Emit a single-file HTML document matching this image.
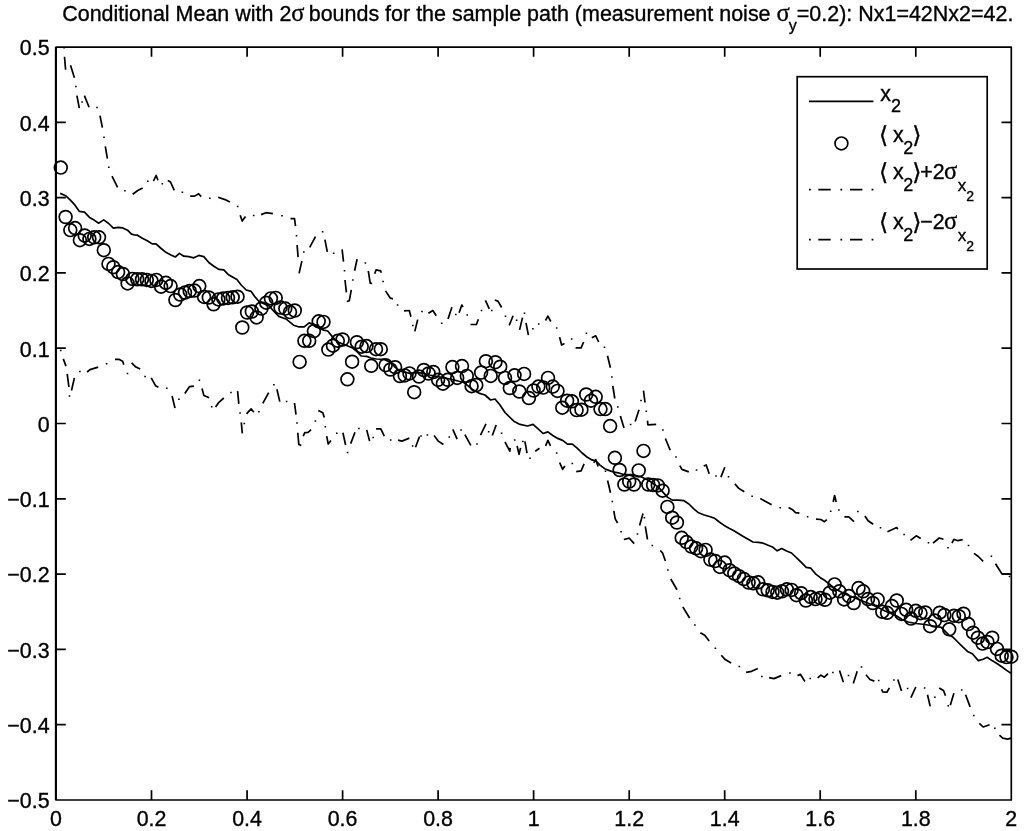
<!DOCTYPE html>
<html><head><meta charset="utf-8"><title>Conditional Mean</title>
<style>html,body{margin:0;padding:0;background:#fff}svg{display:block}text{font-family:"Liberation Sans",Arial,Helvetica,sans-serif;fill:#000;stroke:#000;stroke-width:0.35px}.b{font-family:"DejaVu Sans",sans-serif;font-size:23.5px}.s{font-family:"Liberation Serif","DejaVu Serif",serif;font-size:24.5px}</style></head><body>
<svg width="1024" height="831" viewBox="0 0 1024 831">
<rect x="0" y="0" width="1024" height="831" fill="#fff"/>
<text x="62.2" y="20.8" font-size="21.47" id="title">Conditional Mean with 2<tspan class="s">σ</tspan><tspan dx="-1.8"> bounds for</tspan> the sample path (measurement noise <tspan class="s">σ</tspan><tspan font-size="16" dy="10.3" dx="-1">y</tspan><tspan dy="-10.3">=0.2): Nx1=42Nx2=42.</tspan></text>
<g fill="none" stroke="#000" stroke-width="1.7" stroke-linejoin="round">
<polyline points="60.2,193.4 65.6,195.7 70.4,200.2 75.2,205.4 79.4,211.4 84.5,212.2 89.5,217.4 93.1,219.4 98.6,223.2 103.7,219.9 108.7,223.5 113.3,228.1 118.2,227.4 122.8,227.9 127.6,230.2 131.4,234.2 134.5,234.8 137.5,235.2 142.3,238.3 147.3,240.7 152.2,243.9 156.0,243.8 160.6,248.0 166.2,252.6 171.0,255.0 175.3,257.0 179.4,253.4 183.8,256.2 188.8,256.6 193.8,257.8 198.8,255.4 203.8,256.6 208.8,262.5 213.8,266.2 218.8,269.4 223.8,269.9 228.1,274.4 232.5,276.9 236.9,279.4 241.2,285.0 246.2,290.0 251.2,291.4 255.0,296.9 258.8,301.2 262.0,303.0 269.0,305.7 274.0,311.5 278.8,316.4 286.6,319.3 293.5,325.2 298.4,326.8 304.2,326.8 309.1,322.9 314.0,324.2 318.9,328.1 323.8,330.1 327.7,331.0 332.5,336.9 337.4,341.8 342.3,343.8 347.2,345.7 352.0,347.7 357.0,351.6 361.2,356.0 366.7,356.4 371.0,358.0 376.5,359.0 384.3,359.4 390.2,362.3 395.0,367.2 400.0,371.1 404.8,372.0 409.7,373.4 414.6,372.7 418.5,372.7 423.4,373.4 429.2,375.0 440.0,377.0 450.0,379.0 458.0,381.0 463.8,382.5 472.5,389.4 478.8,393.1 485.0,395.0 490.6,400.0 495.0,399.0 500.0,405.0 505.0,412.5 509.5,417.0 513.8,421.2 520.0,424.4 527.5,426.0 533.1,424.4 538.1,428.8 543.1,433.5 547.9,431.9 552.8,435.5 557.7,438.4 562.6,440.4 567.5,444.2 572.3,444.2 577.2,448.2 582.1,453.0 587.0,457.0 591.9,459.9 595.8,460.9 599.7,464.8 604.6,468.7 609.5,470.6 614.3,472.2 619.5,473.2 624.4,474.7 631.2,474.7 640.6,476.6 648.8,480.5 658.6,487.4 667.4,497.1 672.3,500.1 678.1,500.1 684.0,500.7 688.9,504.0 693.8,508.9 698.6,512.8 703.5,514.7 709.4,516.5 714.4,518.1 719.3,522.0 724.2,525.4 729.1,528.3 733.9,530.8 738.8,533.8 743.7,536.7 748.6,539.6 752.9,542.0 758.4,542.3 763.2,543.2 768.1,545.2 773.0,547.3 777.2,550.8 781.7,548.5 786.6,551.0 791.5,553.0 796.4,557.6 801.3,562.3 806.2,567.3 810.8,568.2 815.5,573.8 820.4,577.7 825.3,580.8 829.2,584.0 834.5,588.4 845.0,594.0 855.0,598.0 865.0,602.0 875.0,606.0 885.0,611.0 896.3,615.7 902.0,619.5 908.0,622.0 916.0,623.5 925.0,624.5 933.0,626.0 941.2,627.4 949.0,635.2 952.9,637.1 957.8,642.0 962.7,646.9 967.5,651.4 972.4,653.8 978.3,660.6 983.2,659.2 987.1,657.3 992.0,660.6 996.9,663.5 1001.7,666.8 1006.6,670.4 1011.0,673.3"/>
<path d="M64.5 56.8 L65.6 69.7M70.5 65.2 L74.4 77.7M76.9 95.6 L79.3 108.1M84.4 95.6 L89.1 107.3M100.0 115.6 L102.4 127.6M105.3 146.3 L107.4 158.7M112.0 176.2 L117.6 187.3M132.7 194.3 L137.8 190.5 L142.6 188.0M153.4 181.1 L156.1 175.5 L158.0 180.3M167.8 180.4 L170.5 182.0 L174.3 190.3M190.2 196.2 L194.7 196.1 L198.6 193.7 L201.2 196.6M218.2 197.2 L225.0 199.6 L229.9 202.1M240.2 215.2 L242.2 221.1 L245.5 216.6M261.1 214.6 L266.0 212.7 L272.9 213.6M290.5 218.7 L294.5 218.5 L295.5 226.2M297.1 245.0 L298.1 257.1M299.1 273.4 L300.5 266.9 L301.9 261.1M309.7 247.4 L315.5 236.6M324.9 239.6 L327.3 251.9M342.1 249.3 L343.5 261.6M345.0 280.0 L346.4 292.3M346.8 301.5 L349.3 300.7 L351.3 289.8M354.6 270.8 L357.1 259.1M368.3 270.8 L370.2 283.1 L372.2 283.5M374.7 273.8 L376.1 269.8 L380.6 270.8 L381.2 272.8M385.5 290.9 L390.4 298.2 L392.9 298.8M404.0 310.9 L409.3 310.5 L410.9 316.7M414.8 331.4 L417.7 319.6M428.4 313.2 L432.9 310.5 L436.2 315.7M448.0 319.1 L451.9 307.3M459.1 312.8 L461.8 305.0 L463.0 307.0M470.5 324.5 L476.4 324.5 L478.4 319.3M485.4 300.4 L489.3 308.8M494.8 300.0 L498.1 301.4 L501.6 307.5M509.2 325.4 L513.1 315.7M519.6 329.9 L522.5 317.6M526.0 322.9 L528.4 335.2M545.5 320.5 L547.9 316.2 L550.8 321.5M559.6 337.1 L561.6 345.0 L564.5 343.6M575.6 347.9 L581.1 347.9 L583.6 342.0M591.8 337.7 L595.7 335.8 L598.7 342.0M607.5 355.7 L610.4 367.8M612.8 386.0 L614.8 398.5M620.4 416.0 L624.0 428.1M635.2 421.5 L639.0 409.8M643.5 390.6 L645.0 402.5M647.5 420.6 L647.8 424.8 L656.2 424.4M665.4 438.5 L670.2 450.2M679.8 465.6 L681.9 469.4 L688.8 471.9M703.7 466.0 L706.2 465.0 L709.2 473.7M720.9 477.1 L724.8 467.3M734.9 483.9 L738.8 488.4 L744.3 491.8M760.3 498.6 L771.6 504.8M788.6 507.4 L792.5 509.7 L795.5 512.7 L799.4 513.2M816.0 519.1 L820.9 519.5 L824.4 521.7 L826.8 519.6M833.2 502.0 L834.6 495.5 L836.2 502.0M844.4 516.8 L848.8 516.8 L854.0 521.7M864.9 516.0 L868.1 520.8 L873.2 524.3M887.4 531.8 L896.7 527.6 L897.8 529.2M910.5 540.3 L916.2 535.8 L920.7 538.4M933.0 543.2 L939.2 538.0 L943.5 539.3M951.9 543.2 L953.9 539.3 L957.8 540.7 L962.7 539.7M974.0 553.4 L978.3 556.5 L983.2 561.4M995.5 563.8 L1001.7 573.5 L1009.5 573.9"/>
<path d="M63.3 358.9 L66.0 366.1M67.2 373.9 L68.9 387.0M71.5 390.5 L74.4 377.9M87.1 372.0 L90.0 369.6 L98.2 367.1M115.0 359.3 L118.8 359.3 L122.7 361.2 L123.8 364.8M131.6 362.8 L135.9 367.1 L140.2 369.1M151.2 377.9 L155.5 385.7 L158.4 387.2M172.1 396.0 L175.0 408.1M184.8 393.5 L189.6 386.6 L193.9 386.1M202.0 388.6 L203.9 395.4 L209.2 397.8M215.6 407.1 L218.9 402.3 L223.8 398.0M237.6 391.2 L238.8 403.9M241.3 422.4 L242.3 433.3M246.5 413.8 L251.1 408.8 L253.8 412.3M262.8 403.4 L268.7 392.6M276.9 389.3 L279.8 401.6M294.5 403.0 L296.0 414.7M297.8 432.7 L298.8 444.4 L301.3 445.5M303.2 436.2 L304.8 432.7 L308.1 432.3 L311.1 429.7M318.3 410.4 L322.8 412.7 L324.3 417.6M326.7 436.2 L328.2 444.0 L331.0 440.5M342.9 432.7 L345.6 445.0M350.7 443.6 L355.0 432.3M366.7 429.9 L369.6 441.1M376.1 428.8 L380.8 428.8 L384.3 436.2M398.0 440.1 L401.9 441.1 L409.3 438.1M415.5 447.3 L419.5 436.6M434.1 435.5 L438.6 441.4 L443.4 444.5M452.8 429.3 L457.1 439.1M464.9 434.6 L470.8 445.3M480.5 435.2 L486.0 423.8M492.3 435.5 L496.2 425.0M505.0 442.0 L509.8 451.2 L510.2 447.9M517.1 445.9 L519.0 454.3 L520.6 447.9M524.9 441.4 L527.0 453.1M535.2 451.2 L539.5 448.2M545.6 445.9 L547.9 440.4 L550.5 445.9M559.6 462.5 L562.6 469.3 L564.9 466.0M576.2 471.7 L581.1 470.9 L584.1 463.9M593.8 462.9 L595.8 459.6 L598.1 466.4M607.6 480.5 L610.5 492.8M613.8 510.9 L615.2 518.8 L617.6 523.0M623.8 539.5 L629.3 538.2 L634.2 543.6M639.6 525.5 L643.0 513.4M645.3 526.4 L647.5 539.5M660.2 550.5 L662.5 552.8 L665.4 561.0M670.8 579.0 L677.0 589.7M682.8 606.9 L689.6 618.0M700.4 632.7 L704.7 635.2 L709.2 641.1M721.3 655.3 L725.2 659.6 L731.1 663.1M746.1 672.3 L751.6 671.3 L757.8 668.4M769.1 677.6 L774.0 678.6 L781.2 675.6M797.5 675.6 L800.4 674.3 L804.9 681.5M817.6 677.8 L820.9 675.2 L824.4 677.2 L828.0 673.6M839.5 670.4 L843.4 682.3M853.3 683.4 L857.2 671.3M866.0 674.8 L869.9 679.5 L874.4 681.1M881.6 689.3 L882.6 691.8 L886.9 692.2 L889.4 687.9M897.8 679.5 L901.5 690.9M910.9 697.7 L915.8 687.0M927.5 694.8 L930.2 706.4M939.2 687.9 L943.5 690.5 L945.5 695.7M950.3 705.2 L953.9 693.2M965.6 694.8 L970.1 706.9M979.3 723.4 L983.2 727.0 L989.6 724.8M999.4 735.2 L1002.7 738.1 L1007.6 739.1 L1011.1 738.1"/>
<path d="M63.3 47.8h1.6M75.1 86.5h1.6M81.3 102.1h1.6M96.2 107.6h1.6M103.2 137.3h1.6M108.0 167.3h1.6M124.1 190.7h1.6M147.0 181.3h1.6M161.5 183.8h1.6M181.6 192.3h1.6M209.0 198.2h1.6M236.9 206.4h1.6M252.9 215.6h1.6M281.2 215.8h1.6M295.7 235.7h1.6M303.0 251.9h1.6M321.8 231.8h1.6M332.9 253.2h1.6M343.7 270.8h1.6M352.1 280.0h1.6M364.6 263.0h1.6M382.3 281.6h1.6M396.8 305.0h1.6M412.0 325.5h1.6M421.2 311.4h1.6M440.9 323.2h1.6M455.0 314.4h1.6M466.4 315.0h1.6M480.7 310.4h1.6M491.0 310.4h1.6M504.7 316.2h1.6M515.8 320.2h1.6M523.7 313.3h1.6M532.1 328.8h1.6M537.9 324.1h1.6M555.9 328.0h1.6M570.9 339.1h1.6M585.6 333.2h1.6M603.7 347.3h1.6M611.1 377.0h1.6M617.0 407.0h1.6M629.8 424.6h1.6M640.2 400.6h1.6M645.5 411.2h1.6M662.1 430.0h1.6M675.2 457.1h1.6M695.7 470.0h1.6M715.2 476.1h1.6M727.7 476.7h1.6M751.3 496.2h1.6M779.4 507.8h1.6M806.8 516.8h1.6M829.9 511.2h1.6M838.1 510.1h1.6M857.1 511.6h1.6M879.7 527.8h1.6M903.3 534.5h1.6M927.7 542.7h1.6M947.2 547.7h1.6M967.7 545.6h1.6M990.6 556.3h1.6M1008.7 576.4h1.6M59.9 350.5h1.6M68.7 396.0h1.6M79.1 371.6h1.6M105.8 363.8h1.6M126.7 373.4h1.6M144.3 376.5h1.6M166.0 388.2h1.6M178.1 399.3h1.6M198.6 380.2h1.6M210.9 406.8h1.6M230.2 392.4h1.6M239.3 412.9h1.6M243.5 423.4h1.6M258.1 411.8h1.6M273.1 384.8h1.6M285.8 401.4h1.6M296.2 423.1h1.6M314.6 421.1h1.6M324.5 426.8h1.6M336.0 433.2h1.6M346.8 452.4h1.6M358.1 428.4h1.6M372.4 437.5h1.6M389.9 440.1h1.6M411.8 445.9h1.6M420.2 436.1h1.6M426.6 435.1h1.6M448.5 437.1h1.6M460.2 429.9h1.6M476.2 443.9h1.6M487.9 431.8h1.6M500.8 433.2h1.6M513.9 440.0h1.6M522.1 441.4h1.6M529.2 458.2h1.6M555.9 453.1h1.6M571.5 463.5h1.6M604.7 471.3h1.6M611.5 501.6h1.6M620.3 531.7h1.6M636.7 533.9h1.6M643.6 517.7h1.6M651.5 545.6h1.6M667.1 570.1h1.6M678.9 598.5h1.6M694.1 625.0h1.6M714.6 648.3h1.6M738.5 666.4h1.6M761.1 676.6h1.6M789.2 672.9h1.6M809.4 678.6h1.6M832.1 672.5h1.6M847.7 675.6h1.6M860.7 667.0h1.6M877.9 680.5h1.6M893.1 680.1h1.6M906.8 688.5h1.6M923.8 687.9h1.6M934.1 697.3h1.6M947.4 705.7h1.6M960.9 689.9h1.6M973.0 715.5h1.6M994.1 728.3h1.6" stroke-width="1.5"/>
<circle cx="60.8" cy="167.6" r="6.4"/>
<circle cx="65.6" cy="217.0" r="6.4"/>
<circle cx="70.3" cy="230.1" r="6.4"/>
<circle cx="75.1" cy="228.1" r="6.4"/>
<circle cx="79.9" cy="240.2" r="6.4"/>
<circle cx="84.7" cy="235.5" r="6.4"/>
<circle cx="89.4" cy="238.9" r="6.4"/>
<circle cx="94.2" cy="237.3" r="6.4"/>
<circle cx="99.0" cy="237.3" r="6.4"/>
<circle cx="103.8" cy="250.2" r="6.4"/>
<circle cx="108.5" cy="263.9" r="6.4"/>
<circle cx="113.3" cy="267.2" r="6.4"/>
<circle cx="118.1" cy="272.1" r="6.4"/>
<circle cx="122.9" cy="274.0" r="6.4"/>
<circle cx="127.6" cy="283.4" r="6.4"/>
<circle cx="132.4" cy="278.9" r="6.4"/>
<circle cx="137.2" cy="279.3" r="6.4"/>
<circle cx="142.0" cy="279.3" r="6.4"/>
<circle cx="146.8" cy="279.9" r="6.4"/>
<circle cx="151.5" cy="280.9" r="6.4"/>
<circle cx="156.3" cy="279.9" r="6.4"/>
<circle cx="161.1" cy="286.7" r="6.4"/>
<circle cx="165.9" cy="282.8" r="6.4"/>
<circle cx="170.6" cy="286.1" r="6.4"/>
<circle cx="175.4" cy="300.0" r="6.4"/>
<circle cx="180.2" cy="294.5" r="6.4"/>
<circle cx="185.0" cy="292.6" r="6.4"/>
<circle cx="189.7" cy="291.0" r="6.4"/>
<circle cx="194.5" cy="290.6" r="6.4"/>
<circle cx="199.3" cy="286.1" r="6.4"/>
<circle cx="204.1" cy="296.9" r="6.4"/>
<circle cx="208.8" cy="297.5" r="6.4"/>
<circle cx="213.6" cy="304.3" r="6.4"/>
<circle cx="218.4" cy="299.4" r="6.4"/>
<circle cx="223.2" cy="298.4" r="6.4"/>
<circle cx="228.0" cy="297.9" r="6.4"/>
<circle cx="232.7" cy="297.3" r="6.4"/>
<circle cx="237.5" cy="296.7" r="6.4"/>
<circle cx="242.3" cy="327.5" r="6.4"/>
<circle cx="247.1" cy="312.5" r="6.4"/>
<circle cx="251.8" cy="311.5" r="6.4"/>
<circle cx="256.6" cy="317.4" r="6.4"/>
<circle cx="261.4" cy="308.6" r="6.4"/>
<circle cx="266.2" cy="302.7" r="6.4"/>
<circle cx="270.9" cy="298.4" r="6.4"/>
<circle cx="275.7" cy="297.9" r="6.4"/>
<circle cx="280.5" cy="307.6" r="6.4"/>
<circle cx="285.3" cy="308.6" r="6.4"/>
<circle cx="290.0" cy="312.1" r="6.4"/>
<circle cx="294.8" cy="310.5" r="6.4"/>
<circle cx="299.6" cy="361.9" r="6.4"/>
<circle cx="304.4" cy="340.8" r="6.4"/>
<circle cx="309.2" cy="340.8" r="6.4"/>
<circle cx="313.9" cy="331.1" r="6.4"/>
<circle cx="318.7" cy="321.3" r="6.4"/>
<circle cx="323.5" cy="321.9" r="6.4"/>
<circle cx="328.3" cy="349.6" r="6.4"/>
<circle cx="333.0" cy="345.7" r="6.4"/>
<circle cx="337.8" cy="340.8" r="6.4"/>
<circle cx="342.6" cy="339.5" r="6.4"/>
<circle cx="347.4" cy="379.3" r="6.4"/>
<circle cx="352.1" cy="361.7" r="6.4"/>
<circle cx="356.9" cy="342.2" r="6.4"/>
<circle cx="361.7" cy="346.7" r="6.4"/>
<circle cx="366.5" cy="346.1" r="6.4"/>
<circle cx="371.2" cy="365.8" r="6.4"/>
<circle cx="376.0" cy="349.2" r="6.4"/>
<circle cx="380.8" cy="349.2" r="6.4"/>
<circle cx="385.6" cy="365.2" r="6.4"/>
<circle cx="390.4" cy="369.5" r="6.4"/>
<circle cx="395.1" cy="367.2" r="6.4"/>
<circle cx="399.9" cy="376.0" r="6.4"/>
<circle cx="404.7" cy="375.4" r="6.4"/>
<circle cx="409.5" cy="373.4" r="6.4"/>
<circle cx="414.2" cy="392.2" r="6.4"/>
<circle cx="419.0" cy="376.5" r="6.4"/>
<circle cx="423.8" cy="370.0" r="6.4"/>
<circle cx="428.6" cy="373.5" r="6.4"/>
<circle cx="433.3" cy="372.0" r="6.4"/>
<circle cx="438.1" cy="379.8" r="6.4"/>
<circle cx="442.9" cy="383.7" r="6.4"/>
<circle cx="447.7" cy="379.8" r="6.4"/>
<circle cx="452.4" cy="367.1" r="6.4"/>
<circle cx="457.2" cy="377.9" r="6.4"/>
<circle cx="462.0" cy="366.1" r="6.4"/>
<circle cx="466.8" cy="375.9" r="6.4"/>
<circle cx="471.6" cy="386.2" r="6.4"/>
<circle cx="476.3" cy="385.1" r="6.4"/>
<circle cx="481.1" cy="372.6" r="6.4"/>
<circle cx="485.9" cy="361.2" r="6.4"/>
<circle cx="490.7" cy="375.9" r="6.4"/>
<circle cx="495.4" cy="362.2" r="6.4"/>
<circle cx="500.2" cy="366.7" r="6.4"/>
<circle cx="505.0" cy="377.9" r="6.4"/>
<circle cx="509.8" cy="388.0" r="6.4"/>
<circle cx="514.5" cy="375.3" r="6.4"/>
<circle cx="519.3" cy="391.5" r="6.4"/>
<circle cx="524.1" cy="373.9" r="6.4"/>
<circle cx="528.9" cy="398.0" r="6.4"/>
<circle cx="533.6" cy="390.5" r="6.4"/>
<circle cx="538.4" cy="386.6" r="6.4"/>
<circle cx="543.2" cy="387.6" r="6.4"/>
<circle cx="548.0" cy="377.9" r="6.4"/>
<circle cx="552.8" cy="386.6" r="6.4"/>
<circle cx="557.5" cy="390.9" r="6.4"/>
<circle cx="562.3" cy="407.7" r="6.4"/>
<circle cx="567.1" cy="400.7" r="6.4"/>
<circle cx="571.9" cy="401.3" r="6.4"/>
<circle cx="576.6" cy="410.1" r="6.4"/>
<circle cx="581.4" cy="409.7" r="6.4"/>
<circle cx="586.2" cy="394.5" r="6.4"/>
<circle cx="591.0" cy="400.7" r="6.4"/>
<circle cx="595.7" cy="396.8" r="6.4"/>
<circle cx="600.5" cy="409.1" r="6.4"/>
<circle cx="605.3" cy="409.1" r="6.4"/>
<circle cx="610.1" cy="426.1" r="6.4"/>
<circle cx="614.9" cy="457.8" r="6.4"/>
<circle cx="619.6" cy="470.0" r="6.4"/>
<circle cx="624.4" cy="484.5" r="6.4"/>
<circle cx="629.2" cy="481.5" r="6.4"/>
<circle cx="634.0" cy="484.5" r="6.4"/>
<circle cx="638.7" cy="470.4" r="6.4"/>
<circle cx="643.5" cy="450.9" r="6.4"/>
<circle cx="648.3" cy="484.5" r="6.4"/>
<circle cx="653.1" cy="485.0" r="6.4"/>
<circle cx="657.8" cy="485.4" r="6.4"/>
<circle cx="662.6" cy="490.7" r="6.4"/>
<circle cx="667.4" cy="506.9" r="6.4"/>
<circle cx="672.2" cy="517.7" r="6.4"/>
<circle cx="676.9" cy="522.5" r="6.4"/>
<circle cx="681.7" cy="537.8" r="6.4"/>
<circle cx="686.5" cy="542.1" r="6.4"/>
<circle cx="691.3" cy="546.6" r="6.4"/>
<circle cx="696.1" cy="548.3" r="6.4"/>
<circle cx="700.8" cy="551.2" r="6.4"/>
<circle cx="705.6" cy="549.9" r="6.4"/>
<circle cx="710.4" cy="559.6" r="6.4"/>
<circle cx="715.2" cy="561.0" r="6.4"/>
<circle cx="719.9" cy="566.9" r="6.4"/>
<circle cx="724.7" cy="562.6" r="6.4"/>
<circle cx="729.5" cy="570.2" r="6.4"/>
<circle cx="734.3" cy="573.5" r="6.4"/>
<circle cx="739.0" cy="576.2" r="6.4"/>
<circle cx="743.8" cy="579.0" r="6.4"/>
<circle cx="748.6" cy="582.6" r="6.4"/>
<circle cx="753.4" cy="583.3" r="6.4"/>
<circle cx="758.1" cy="582.3" r="6.4"/>
<circle cx="762.9" cy="589.3" r="6.4"/>
<circle cx="767.7" cy="590.3" r="6.4"/>
<circle cx="772.5" cy="591.9" r="6.4"/>
<circle cx="777.3" cy="592.7" r="6.4"/>
<circle cx="782.0" cy="591.3" r="6.4"/>
<circle cx="786.8" cy="589.3" r="6.4"/>
<circle cx="791.6" cy="589.9" r="6.4"/>
<circle cx="796.4" cy="595.2" r="6.4"/>
<circle cx="801.1" cy="593.2" r="6.4"/>
<circle cx="805.9" cy="600.5" r="6.4"/>
<circle cx="810.7" cy="597.1" r="6.4"/>
<circle cx="815.5" cy="599.1" r="6.4"/>
<circle cx="820.2" cy="598.1" r="6.4"/>
<circle cx="825.0" cy="599.8" r="6.4"/>
<circle cx="829.8" cy="592.7" r="6.4"/>
<circle cx="834.6" cy="584.4" r="6.4"/>
<circle cx="839.3" cy="591.3" r="6.4"/>
<circle cx="844.1" cy="599.4" r="6.4"/>
<circle cx="848.9" cy="596.1" r="6.4"/>
<circle cx="853.7" cy="603.0" r="6.4"/>
<circle cx="858.5" cy="588.1" r="6.4"/>
<circle cx="863.2" cy="591.3" r="6.4"/>
<circle cx="868.0" cy="599.1" r="6.4"/>
<circle cx="872.8" cy="603.0" r="6.4"/>
<circle cx="877.6" cy="599.4" r="6.4"/>
<circle cx="882.3" cy="611.8" r="6.4"/>
<circle cx="887.1" cy="612.8" r="6.4"/>
<circle cx="891.9" cy="606.1" r="6.4"/>
<circle cx="896.7" cy="600.5" r="6.4"/>
<circle cx="901.4" cy="613.9" r="6.4"/>
<circle cx="906.2" cy="609.8" r="6.4"/>
<circle cx="911.0" cy="618.6" r="6.4"/>
<circle cx="915.8" cy="610.8" r="6.4"/>
<circle cx="920.5" cy="613.2" r="6.4"/>
<circle cx="925.3" cy="612.5" r="6.4"/>
<circle cx="930.1" cy="626.2" r="6.4"/>
<circle cx="934.9" cy="620.5" r="6.4"/>
<circle cx="939.7" cy="612.7" r="6.4"/>
<circle cx="944.4" cy="615.1" r="6.4"/>
<circle cx="949.2" cy="629.3" r="6.4"/>
<circle cx="954.0" cy="615.7" r="6.4"/>
<circle cx="958.8" cy="616.2" r="6.4"/>
<circle cx="963.5" cy="613.7" r="6.4"/>
<circle cx="968.3" cy="624.1" r="6.4"/>
<circle cx="973.1" cy="632.7" r="6.4"/>
<circle cx="977.9" cy="637.7" r="6.4"/>
<circle cx="982.6" cy="643.6" r="6.4"/>
<circle cx="987.4" cy="642.0" r="6.4"/>
<circle cx="992.2" cy="637.7" r="6.4"/>
<circle cx="997.0" cy="648.9" r="6.4"/>
<circle cx="1001.7" cy="655.7" r="6.4"/>
<circle cx="1006.5" cy="657.1" r="6.4"/>
<circle cx="1011.3" cy="656.7" r="6.4"/>
</g>
<g fill="none" stroke="#000" stroke-width="1.7">
<rect x="56.0" y="47.05" width="955.30" height="752.95" stroke-linejoin="round"/>
<path d="M55.85 47.05V800.0" stroke-width="2"/>
<path d="M151.5 800.0v-9.8M151.5 47.05v9.8M247.1 800.0v-9.8M247.1 47.05v9.8M342.6 800.0v-9.8M342.6 47.05v9.8M438.1 800.0v-9.8M438.1 47.05v9.8M533.6 800.0v-9.8M533.6 47.05v9.8M629.2 800.0v-9.8M629.2 47.05v9.8M724.7 800.0v-9.8M724.7 47.05v9.8M820.2 800.0v-9.8M820.2 47.05v9.8M915.8 800.0v-9.8M915.8 47.05v9.8M56.0 724.7h9.8M1011.3 724.7h-9.8M56.0 649.4h9.8M1011.3 649.4h-9.8M56.0 574.1h9.8M1011.3 574.1h-9.8M56.0 498.8h9.8M1011.3 498.8h-9.8M56.0 423.5h9.8M1011.3 423.5h-9.8M56.0 348.2h9.8M1011.3 348.2h-9.8M56.0 272.9h9.8M1011.3 272.9h-9.8M56.0 197.6h9.8M1011.3 197.6h-9.8M56.0 122.3h9.8M1011.3 122.3h-9.8"/>
</g>
<g font-size="21.4">
<text x="56.0" y="825.8" text-anchor="middle">0</text>
<text x="151.5" y="825.8" text-anchor="middle">0.2</text>
<text x="247.1" y="825.8" text-anchor="middle">0.4</text>
<text x="342.6" y="825.8" text-anchor="middle">0.6</text>
<text x="438.1" y="825.8" text-anchor="middle">0.8</text>
<text x="533.6" y="825.8" text-anchor="middle">1</text>
<text x="629.2" y="825.8" text-anchor="middle">1.2</text>
<text x="724.7" y="825.8" text-anchor="middle">1.4</text>
<text x="820.2" y="825.8" text-anchor="middle">1.6</text>
<text x="915.8" y="825.8" text-anchor="middle">1.8</text>
<text x="1011.3" y="825.8" text-anchor="middle">2</text>
<text x="49.6" y="808.3" text-anchor="end">−0.5</text>
<text x="49.6" y="733.0" text-anchor="end">−0.4</text>
<text x="49.6" y="657.7" text-anchor="end">−0.3</text>
<text x="49.6" y="582.4" text-anchor="end">−0.2</text>
<text x="49.6" y="507.1" text-anchor="end">−0.1</text>
<text x="49.6" y="431.8" text-anchor="end">0</text>
<text x="49.6" y="356.5" text-anchor="end">0.1</text>
<text x="49.6" y="281.2" text-anchor="end">0.2</text>
<text x="49.6" y="205.9" text-anchor="end">0.3</text>
<text x="49.6" y="130.6" text-anchor="end">0.4</text>
<text x="49.6" y="55.3" text-anchor="end">0.5</text>
</g>
<rect x="797.2" y="76.7" width="190" height="192.3" fill="#fff" stroke="#000" stroke-width="1.7"/>
<g fill="none" stroke="#000" stroke-width="1.7">
<path d="M809 101.3H873.4"/>
<circle cx="841.4" cy="143.4" r="6.4"/>
<path d="M809 189.7h1.8M818.3 189.7h12.4M840.4 189.7h1.8M850 189.7h12.4M871.6 189.7h1.8"/>
<path d="M809 239.7h1.8M818.3 239.7h12.4M840.4 239.7h1.8M850 239.7h12.4M871.6 239.7h1.8"/>
</g>
<g font-size="21.4">
<text x="880.3" y="100.5">x<tspan font-size="18" dy="11.3">2</tspan></text>
<text x="879" y="141.5"><tspan class="b" dy="1.7">⟨</tspan><tspan dy="-1.7" dx="-1"> x</tspan><tspan font-size="18" dy="12.1" dx="-0.5">2</tspan><tspan class="b" dy="-10.4" dx="-1.1">⟩</tspan></text>
<text x="879" y="178.5"><tspan class="b" dy="1.7">⟨</tspan><tspan dy="-1.7" dx="-1"> x</tspan><tspan font-size="18" dy="12.1" dx="-0.5">2</tspan><tspan class="b" dy="-10.4" dx="-1.1">⟩</tspan><tspan dx="-1.1" dy="-1.7">+2</tspan><tspan class="s" dx="-0.6">σ</tspan><tspan font-size="17" dy="12" dx="0.5">x</tspan><tspan font-size="14" dy="10.7">2</tspan></text>
<text x="879" y="228.5"><tspan class="b" dy="1.7">⟨</tspan><tspan dy="-1.7" dx="-1"> x</tspan><tspan font-size="18" dy="12.1" dx="-0.5">2</tspan><tspan class="b" dy="-10.4" dx="-1.1">⟩</tspan><tspan dx="-1.1" dy="-1.7">−2</tspan><tspan class="s" dx="-0.6">σ</tspan><tspan font-size="17" dy="12" dx="0.5">x</tspan><tspan font-size="14" dy="10.7">2</tspan></text>
</g>
</svg></body></html>
